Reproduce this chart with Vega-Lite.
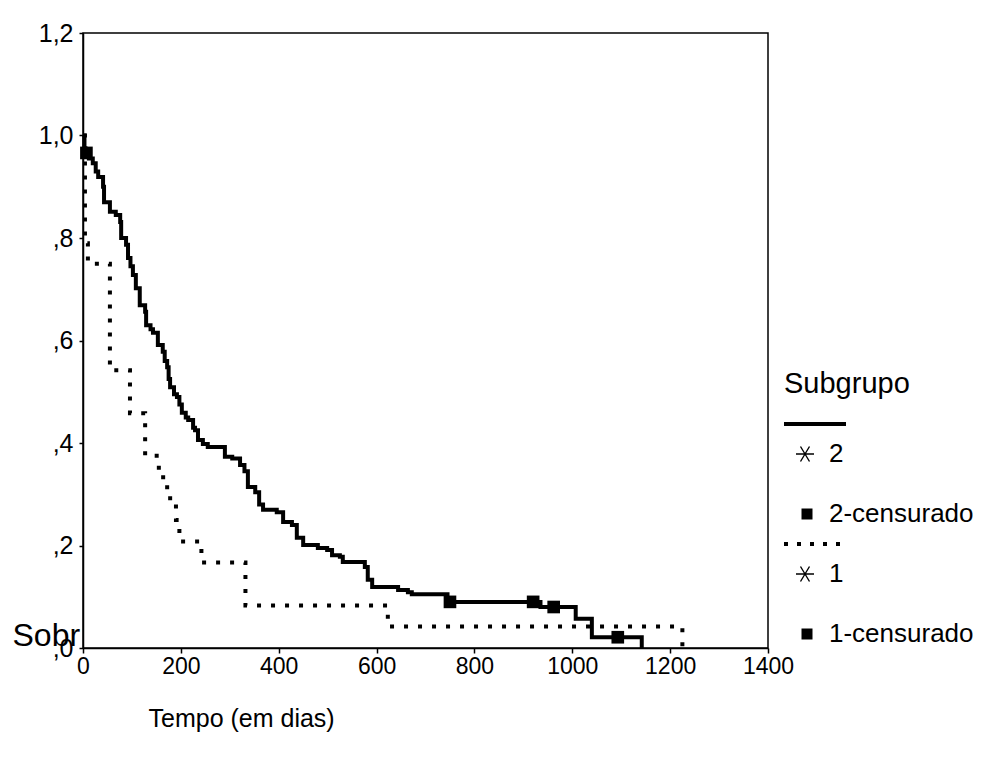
{
  "$schema": "https://vega.github.io/schema/vega-lite/v6.json",
  "width": 685,
  "height": 615,
  "autosize": {"type": "none"},
  "padding": {"left": 83, "top": 33, "right": 218, "bottom": 110},
  "background": "white",
  "config": {
    "font": "Liberation Sans",
    "view": {"stroke": "black", "strokeWidth": 1.5},
    "axis": {
      "grid": false,
      "domainColor": "black",
      "domainWidth": 1.5,
      "tickColor": "black",
      "tickWidth": 1.5,
      "labelColor": "black",
      "titleColor": "black",
      "labelFont": "Liberation Sans",
      "titleFont": "Liberation Sans",
      "titleFontWeight": "normal",
      "labelFlush": false,
      "labelOverlap": false
    }
  },
  "datasets": {
    "g2": [
      {"t": 0, "s": 1.0}, {"t": 3, "s": 0.975}, {"t": 5, "s": 0.966}, {"t": 12, "s": 0.955}, {"t": 20, "s": 0.946},
      {"t": 26, "s": 0.93}, {"t": 31, "s": 0.919}, {"t": 41, "s": 0.9}, {"t": 43, "s": 0.87}, {"t": 55, "s": 0.851},
      {"t": 67, "s": 0.845}, {"t": 76, "s": 0.831}, {"t": 78, "s": 0.8}, {"t": 88, "s": 0.787}, {"t": 92, "s": 0.761},
      {"t": 97, "s": 0.745}, {"t": 102, "s": 0.728}, {"t": 108, "s": 0.702}, {"t": 116, "s": 0.669}, {"t": 127, "s": 0.656},
      {"t": 129, "s": 0.63}, {"t": 138, "s": 0.622}, {"t": 143, "s": 0.615}, {"t": 153, "s": 0.591}, {"t": 163, "s": 0.578},
      {"t": 167, "s": 0.56}, {"t": 172, "s": 0.548}, {"t": 175, "s": 0.525}, {"t": 178, "s": 0.509}, {"t": 186, "s": 0.495},
      {"t": 192, "s": 0.49}, {"t": 197, "s": 0.475}, {"t": 202, "s": 0.459}, {"t": 210, "s": 0.45}, {"t": 215, "s": 0.445},
      {"t": 225, "s": 0.43}, {"t": 229, "s": 0.425}, {"t": 235, "s": 0.406}, {"t": 245, "s": 0.398}, {"t": 255, "s": 0.392},
      {"t": 290, "s": 0.373}, {"t": 305, "s": 0.37}, {"t": 321, "s": 0.357}, {"t": 330, "s": 0.345}, {"t": 337, "s": 0.314},
      {"t": 352, "s": 0.304}, {"t": 360, "s": 0.28}, {"t": 368, "s": 0.27}, {"t": 396, "s": 0.265}, {"t": 409, "s": 0.246},
      {"t": 427, "s": 0.24}, {"t": 437, "s": 0.215}, {"t": 450, "s": 0.201}, {"t": 480, "s": 0.195}, {"t": 499, "s": 0.191},
      {"t": 509, "s": 0.181}, {"t": 525, "s": 0.178}, {"t": 531, "s": 0.168}, {"t": 576, "s": 0.158}, {"t": 582, "s": 0.133},
      {"t": 591, "s": 0.119}, {"t": 644, "s": 0.113}, {"t": 664, "s": 0.109}, {"t": 672, "s": 0.105}, {"t": 745, "s": 0.09},
      {"t": 935, "s": 0.08}, {"t": 1007, "s": 0.057}, {"t": 1040, "s": 0.021}, {"t": 1142, "s": 0.0}
    ],
    "g1": [
      {"t": 0, "s": 1.0}, {"t": 4, "s": 0.79}, {"t": 10, "s": 0.75}, {"t": 55, "s": 0.542}, {"t": 96, "s": 0.458},
      {"t": 127, "s": 0.375}, {"t": 155, "s": 0.333}, {"t": 172, "s": 0.292}, {"t": 190, "s": 0.25}, {"t": 197, "s": 0.208},
      {"t": 242, "s": 0.167}, {"t": 332, "s": 0.083}, {"t": 623, "s": 0.042}, {"t": 1225, "s": 0.0}
    ],
    "cens": [
      {"t": 7, "s": 0.966}, {"t": 750, "s": 0.09}, {"t": 920, "s": 0.09}, {"t": 962, "s": 0.08}, {"t": 1093, "s": 0.021}
    ],
    "leg": [
      {"k": "L2"}, {"k": "2"}, {"k": "b1"}, {"k": "2-censurado"}, {"k": "L1"}, {"k": "1"}, {"k": "b2"}, {"k": "1-censurado"}
    ]
  },
  "layer": [
    {
      "data": {"name": "g1"},
      "mark": {"type": "line", "interpolate": "step-after", "color": "black", "strokeWidth": 4, "strokeDash": [4, 10], "strokeCap": "butt"},
      "encoding": {
        "x": {
          "field": "t", "type": "quantitative",
          "scale": {"domain": [0, 1400], "nice": false, "zero": true},
          "axis": {
            "title": "Tempo (em dias)",
            "values": [0, 200, 400, 600, 800, 1000, 1200, 1400],
            "format": "d",
            "labelFontSize": 23,
            "tickSize": 5,
            "labelPadding": 2,
            "titleFontSize": 25,
            "titleX": 65,
            "titleY": 70,
            "titleAlign": "left",
            "titleBaseline": "middle"
          }
        },
        "y": {
          "field": "s", "type": "quantitative",
          "scale": {"domain": [0, 1.2], "nice": false},
          "axis": {
            "title": "Sobr",
            "values": [0, 0.2, 0.4, 0.6, 0.8, 1, 1.2],
            "labelExpr": "datum.value >= 1 ? replace(format(datum.value, '.1f'), '.', ',') : replace(format(datum.value, '.1f'), '0.', ',')",
            "labelFontSize": 25,
            "tickSize": 4,
            "labelPadding": 6,
            "titleAngle": 0,
            "titleX": -71,
            "titleY": 602,
            "titleAlign": "left",
            "titleBaseline": "middle",
            "titleFontSize": 32
          }
        }
      }
    },
    {
      "data": {"name": "g2"},
      "mark": {"type": "line", "interpolate": "step-after", "color": "black", "strokeWidth": 4},
      "encoding": {
        "x": {"field": "t", "type": "quantitative"},
        "y": {"field": "s", "type": "quantitative"}
      }
    },
    {
      "data": {"name": "cens"},
      "mark": {"type": "point", "shape": "square", "filled": true, "color": "black", "size": 160, "opacity": 1},
      "encoding": {
        "x": {"field": "t", "type": "quantitative"},
        "y": {"field": "s", "type": "quantitative"}
      }
    },
    {
      "data": {"name": "leg"},
      "mark": {"type": "point", "filled": true, "color": "black", "opacity": 1},
      "encoding": {
        "x": {"field": "t", "type": "quantitative"},
        "y": {"field": "s", "type": "quantitative"},
        "shape": {
          "field": "k", "type": "nominal",
          "scale": {
            "domain": ["L2", "2", "b1", "2-censurado", "L1", "1", "b2", "1-censurado"],
            "range": [
              "M-1.3,-0.2H4.9V0.2H-1.3Z",
              "M-0.1,-0.08H1.7V0.08H-0.1ZM0.41,-0.786L1.31,0.714L1.19,0.786L0.29,-0.714ZM0.29,0.714L1.19,-0.786L1.31,-0.714L0.41,0.786Z",
              "M0,0",
              "M0.45,-0.55h1.1v1.1h-1.1z",
              "M-1.3,-0.2h0.4v0.4h-0.4zM0,-0.2h0.4v0.4h-0.4zM1.3,-0.2h0.4v0.4h-0.4zM2.6,-0.2h0.4v0.4h-0.4zM3.9,-0.2h0.4v0.4h-0.4z",
              "M-0.1,-0.08H1.7V0.08H-0.1ZM0.41,-0.786L1.31,0.714L1.19,0.786L0.29,-0.714ZM0.29,0.714L1.19,-0.786L1.31,-0.714L0.41,0.786Z",
              "M0,0",
              "M0.45,-0.55h1.1v1.1h-1.1z"
            ]
          },
          "legend": {
            "title": "Subgrupo",
            "orient": "none",
            "legendX": 701,
            "legendY": 337,
            "padding": 0,
            "titleFontSize": 29,
            "titleFontWeight": "normal",
            "titleColor": "black",
            "titlePadding": 12,
            "labelFontSize": 26,
            "labelColor": "black",
            "labelOffset": 19,
            "symbolSize": 400,
            "symbolOpacity": 1,
            "rowPadding": 4,
            "labelExpr": "length(datum.label) < 2 || indexof(datum.label, '-') > 0 ? datum.label : ''",
            "encode": {
              "symbols": {
                "update": {
                  "fill": {"value": "black"},
                  "opacity": {"value": 1}
                }
              }
            }
          }
        }
      }
    }
  ]
}
